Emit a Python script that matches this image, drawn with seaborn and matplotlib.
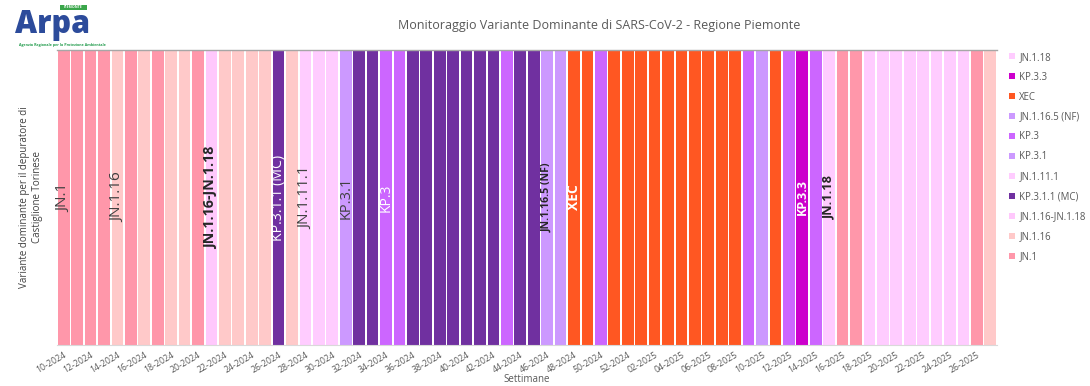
import matplotlib
matplotlib.use("Agg")
import matplotlib.pyplot as plt
from matplotlib.lines import Line2D
from matplotlib.patches import Rectangle
import seaborn as sns
import pandas as pd

# ---- data ----
weeks_2024 = [f"{w:02d}-2024" for w in range(10, 53)]
weeks_2025 = [f"{w:02d}-2025" for w in range(1, 28)]
weeks = weeks_2024 + weeks_2025

MC = "KP.3.1.1 (MC)"
NF = "JN.1.16.5 (NF)"
variants = (
    ["JN.1"] * 4 + ["JN.1.16", "JN.1", "JN.1.16", "JN.1", "JN.1.16", "JN.1.16", "JN.1"]
    + ["JN.1.16-JN.1.18", "JN.1.16", "JN.1.16", "JN.1.16", "JN.1.16", MC, "JN.1.16"]
    + ["JN.1.11.1"] * 3 + ["KP.3.1"]
    + [MC, MC, "KP.3", "KP.3"] + [MC] * 7 + ["KP.3", MC, MC, NF, NF]
    + ["XEC", "XEC", "KP.3", "XEC", "XEC"]
    + ["XEC"] * 8 + ["KP.3", "KP.3.1", "XEC", "KP.3", "KP.3.3", "KP.3", "JN.1.18"]
    + ["JN.1", "JN.1"] + ["JN.1.18"] * 8 + ["JN.1", "JN.1.16"]
)

legend_order = ["JN.1.18", "KP.3.3", "XEC", NF, "KP.3", "KP.3.1", "JN.1.11.1",
                MC, "JN.1.16-JN.1.18", "JN.1.16", "JN.1"]
palette = {
    "JN.1": "#ff97aa",
    "JN.1.16": "#ffc9c9",
    "JN.1.16-JN.1.18": "#ffc8fc",
    MC: "#7030a0",
    "JN.1.11.1": "#ffccff",
    "KP.3.1": "#cc99ff",
    "KP.3": "#cc66ff",
    NF: "#cc99ff",
    "XEC": "#ff5722",
    "KP.3.3": "#cc00cc",
    "JN.1.18": "#ffccff",
}

# labels on bars: (week, text, color, weight, size)
bar_labels = [
    ("10-2024", "JN.1", "#404040", "normal", 11),
    ("14-2024", "JN.1.16", "#404040", "normal", 11),
    ("21-2024", "JN.1.16-JN.1.18", "#262626", "bold", 10.3),
    ("26-2024", "KP.3.1.1 (MC)", "white", "normal", 10.2),
    ("28-2024", "JN.1.11.1", "#404040", "normal", 11),
    ("31-2024", "KP.3.1", "#404040", "normal", 10.5),
    ("34-2024", "KP.3", "white", "normal", 10),
    ("46-2024", NF, "#262626", "bold", 7.6),
    ("48-2024", "XEC", "white", "bold", 10),
    ("13-2025", "KP.3.3", "white", "bold", 9),
    ("15-2025", "JN.1.18", "#262626", "bold", 9.2),
]

df = pd.DataFrame({"week": weeks, "variant": variants, "value": [1] * len(weeks)})

# ---- plot ----
sns.set_style("white")
plt.rcParams["font.family"] = ["Open Sans", "DejaVu Sans"]

fig = plt.figure(figsize=(10.9, 3.86), dpi=100)
ax = fig.add_axes([57 / 1090, 1 - 345 / 386, (997 - 57) / 1090, (345 - 50) / 386])

sns.barplot(data=df, x="week", y="value", hue="variant", palette=palette,
            hue_order=legend_order, dodge=False, width=0.88, linewidth=0,
            legend=False, ax=ax, saturation=1)

ax.set_ylim(0, 1)
ax.set_xlim(-0.5, len(weeks) - 0.5)
ax.set_yticks([])
ax.set_ylabel("Variante dominante per il depuratore di\nCastiglione Torinese",
              fontsize=7, color="#404040", labelpad=10, linespacing=1.3)

tick_pos = list(range(0, len(weeks), 2))
ax.set_xticks(tick_pos)
ax.set_xticklabels([weeks[i] for i in tick_pos], rotation=30, ha="right",
                   rotation_mode="anchor", fontsize=6.3, color="#595959")
ax.tick_params(axis="x", length=0, pad=4)
ax.set_xlabel("")
fig.text(527 / 1090, 1 - 380 / 386, "Settimane", fontsize=7, color="#595959",
         ha="center", va="center")

for s in ["left", "right"]:
    ax.spines[s].set_visible(False)
ax.spines["top"].set_color("#a6a6a6")
ax.spines["top"].set_linewidth(1.0)
ax.spines["bottom"].set_color("#d9d9d9")
ax.spines["bottom"].set_linewidth(0.8)

for wk, txt, col, wt, sz in bar_labels:
    ax.text(weeks.index(wk), 0.5, txt, rotation=90, ha="center", va="center",
            color=col, fontweight=wt, fontsize=sz)

handles = [Line2D([0], [0], marker="s", linestyle="", markersize=5,
                  markerfacecolor=palette[v], markeredgewidth=0) for v in legend_order]
leg = fig.legend(handles, legend_order, loc="upper left",
                 bbox_to_anchor=(1004 / 1090, 1 - 48 / 386), frameon=False,
                 fontsize=6.9, labelspacing=0.93, handlelength=0.8,
                 handletextpad=0.4, borderaxespad=0)
for t in leg.get_texts():
    t.set_color("#595959")

fig.text(599 / 1090, 1 - 25 / 386,
         "Monitoraggio Variante Dominante di SARS-CoV-2 - Regione Piemonte",
         ha="center", va="center", fontsize=9, color="#595959")

# logo (text approximation)
fig.text(15 / 1090, 1 - 25 / 386, "Arpa", fontsize=22, fontweight="heavy",
         color="#2c4b9b", va="center", ha="left")
fig.patches.append(Rectangle((60 / 1090, 1 - 10 / 386), 27 / 1090, 5 / 386,
                             transform=fig.transFigure, facecolor="#3aa64a",
                             edgecolor="none"))
fig.text(73.5 / 1090, 1 - 7.5 / 386, "PIEMONTE", fontsize=2.5, color="white",
         ha="center", va="center", fontweight="bold")
fig.text(62 / 1090, 1 - 45 / 386, "Agenzia Regionale per la Protezione Ambientale",
         fontsize=2.6, color="#1f9a4a", ha="center", va="center",
         fontweight="bold")

fig.savefig("out.png", dpi=100)
